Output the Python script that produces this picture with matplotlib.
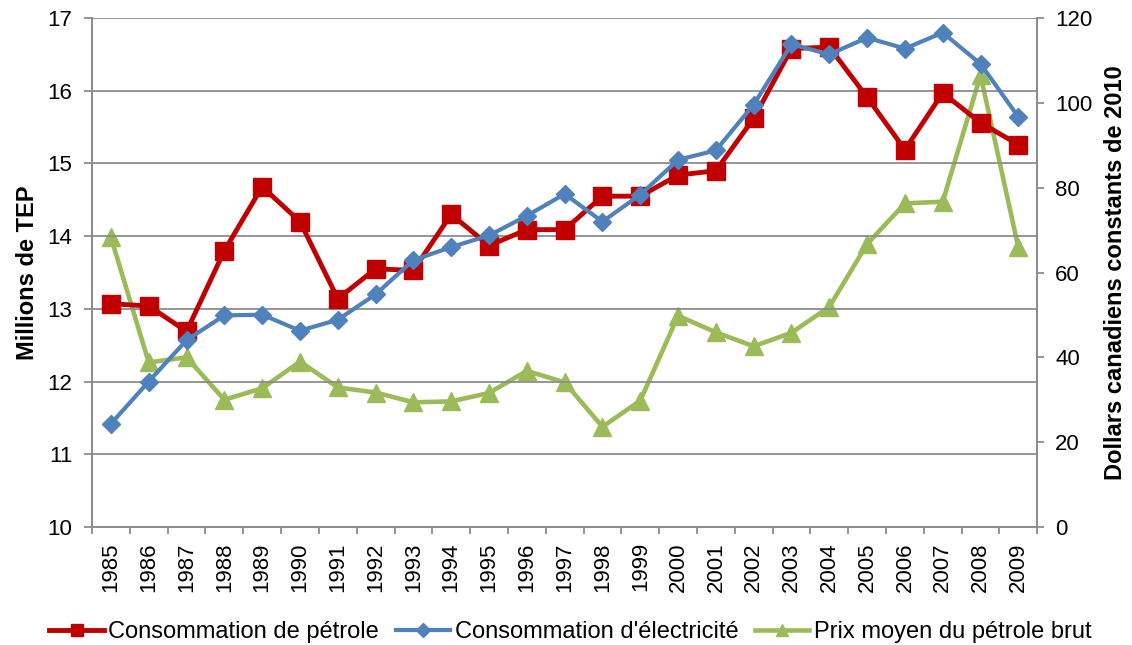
import matplotlib
matplotlib.use("Agg")
import matplotlib.pyplot as plt
import numpy as np

plt.rcParams.update({
    "font.family": ["Liberation Sans", "DejaVu Sans"],
})

years = [str(y) for y in range(1985, 2010)]

petrole = [13.07, 13.04, 12.69, 13.80, 14.68, 14.20, 13.14, 13.55, 13.53, 14.30,
           13.87, 14.09, 14.09, 14.55, 14.55, 14.84, 14.90, 15.62, 16.58, 16.60,
           15.91, 15.19, 15.97, 15.56, 15.26]

electricite = [11.42, 12.00, 12.57, 12.91, 12.92, 12.70, 12.85, 13.20, 13.67, 13.85,
               14.01, 14.28, 14.58, 14.20, 14.57, 15.05, 15.18, 15.81, 16.64, 16.50,
               16.73, 16.58, 16.80, 16.37, 15.64]

prix_brut = [68.3, 38.8, 40.0, 30.0, 32.7, 39.0, 32.9, 31.7, 29.4, 29.6,
             31.6, 36.8, 34.1, 23.6, 29.8, 49.8, 45.9, 42.6, 45.8, 51.9,
             66.7, 76.3, 76.7, 106.5, 65.9]

RED = "#C00000"
BLUE = "#4F81BD"
GREEN = "#9BBB59"
GRID = "#8C8C8C"

fig = plt.figure(figsize=(11.32, 6.45), dpi=100)
ax = fig.add_axes([0.0813, 0.183, 0.835, 0.789])
ax2 = ax.twinx()

x = np.arange(len(years))

l1, = ax.plot(x, petrole, color=RED, linewidth=3.5, marker="s", markersize=13,
              label="Consommation de pétrole", zorder=4)
l2, = ax.plot(x, electricite, color=BLUE, linewidth=3.0, marker="D", markersize=9.5,
              label="Consommation d'électricité", zorder=5)
l3, = ax2.plot(x, prix_brut, color=GREEN, linewidth=3.3, marker="^", markersize=13,
               label="Prix moyen du pétrole brut", zorder=3)

ax.set_zorder(ax2.get_zorder() + 1)
ax.patch.set_visible(False)

ax.set_ylim(10, 17)
ax.set_yticks(range(10, 18))
ax2.set_ylim(0, 120)
ax2.set_yticks(range(0, 121, 20))
ax.set_xlim(-0.5, len(years) - 0.5)

ax.grid(True, axis="y", color=GRID, linewidth=1.3)
ax.set_axisbelow(True)

ax.set_xticks(x)
ax.set_xticklabels(years, rotation=90, fontsize=16)
ax.set_xticks(np.arange(-0.5, len(years), 1.0), minor=True)
ax.tick_params(axis="x", which="major", length=0, pad=11)
ax.tick_params(axis="x", which="minor", length=5, color=GRID, width=1.3)
ax.tick_params(axis="y", length=6, color=GRID, width=1.3, labelsize=16, pad=8)
ax2.tick_params(axis="y", length=5, color=GRID, width=1.3, labelsize=16, pad=8)

for a in (ax, ax2):
    for s in a.spines.values():
        s.set_color(GRID)
        s.set_linewidth(1.3)
ax.spines["top"].set_visible(False)
ax2.spines["top"].set_visible(False)

ax.set_ylabel("Millions de TEP", fontsize=17, fontweight="bold", labelpad=6)
ax2.set_ylabel("Dollars canadiens constants de 2010", fontsize=17,
               fontweight="bold", labelpad=8)

fig.legend(handles=[l1, l2, l3], loc="center", bbox_to_anchor=(0.504, 0.02),
           ncol=3, frameon=False, fontsize=17, handlelength=2.3,
           handletextpad=0.2, columnspacing=0.7, markerscale=0.7,
           borderpad=0, borderaxespad=0)

fig.savefig("out.png", dpi=100)
